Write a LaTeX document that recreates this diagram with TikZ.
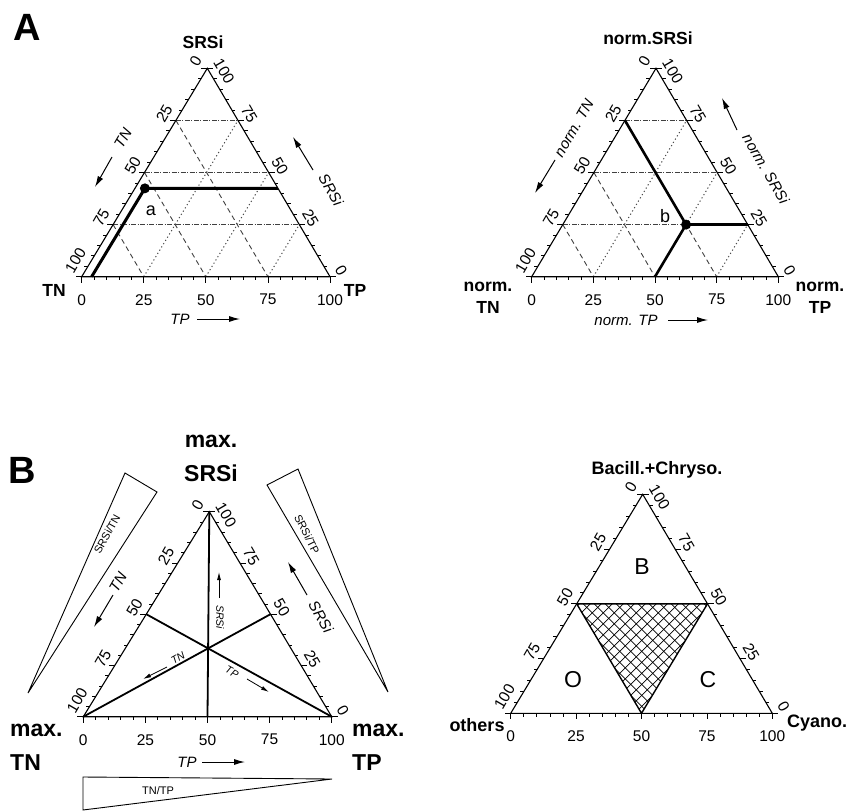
\documentclass[tikz,border=0pt]{standalone}
\usepackage{fontspec}
\setmainfont{Liberation Sans}
\usetikzlibrary{arrows.meta,calc}

\tikzset{
  triedge/.style={line width=1.1pt, line join=miter},
  tk/.style={line width=0.8pt},
  num/.style={font=\fontsize{15.5}{15.5}\selectfont, inner sep=0pt},
  gridh/.style={line width=0.8pt, black!75, dash pattern=on 5pt off 1.5pt on 1pt off 1.5pt},
  gridn/.style={line width=0.9pt, black!75, dash pattern=on 5pt off 3.5pt},
  gridp/.style={line width=1pt, black!70, dash pattern=on 1.2pt off 2.6pt},
  heavy/.style={line width=3pt},
  median/.style={line width=1.8pt},
  cornerA/.style={font=\bfseries\fontsize{17.5}{22}\selectfont, inner sep=0pt, align=center},
  cornerC/.style={font=\bfseries\fontsize{18}{22}\selectfont, inner sep=0pt},
  cornerB/.style={font=\bfseries\fontsize{23}{34}\selectfont, inner sep=0pt},
  axlab/.style={font=\itshape\fontsize{15}{15}\selectfont, inner sep=0pt},
  inlab/.style={font=\itshape\fontsize{10.5}{10.5}\selectfont, inner sep=0pt},
  wedgelab/.style={font=\fontsize{11}{11}\selectfont, inner sep=0pt},
  axarrow/.style={line width=1pt, -{Latex[length=11pt,width=6pt]}},
  inarrow/.style={line width=0.8pt, -{Latex[length=8pt,width=4pt]}},
  panel/.style={font=\bfseries\fontsize{38}{38}\selectfont, inner sep=0pt},
  ptlab/.style={font=\fontsize{18}{18}\selectfont, inner sep=0pt},
  region/.style={font=\fontsize{23}{23}\selectfont, inner sep=0pt},
  wedge/.style={line width=0.9pt, line join=miter},
  hatch/.style={line width=0.8pt},
}

\newcommand{\terngrid}{%
  \foreach \v in {25,50,75}{%
    \draw[gridh] (0,\v) -- (100-\v,\v);
    \draw[gridn] (0,100-\v) -- (100-\v,0);
    \draw[gridp] (\v,0) -- (\v,100-\v);
  }}

\newcommand{\ternframe}[1]{%
  \coordinate (#1BL) at (0,0);
  \coordinate (#1BR) at (100,0);
  \coordinate (#1T) at (0,100);
  \foreach \v in {0,5,...,100}{%
    \pgfmathsetmacro\tklen{mod(\v,25)==0 ? 6 : 3.5}%
    \draw[tk] (\v,0) -- ++(0pt,-\tklen pt);
    \draw[tk] (0,100-\v) -- ++(-\tklen pt,0pt);
    \draw[tk] (100-\v,\v) -- ++(\tklen pt,0pt);
  }
  \draw[triedge] (#1BL) -- (#1BR) -- (#1T) -- cycle;
  \foreach \v in {0,25,50,75,100}{%
    \path (\v,0) ++(0pt,-23pt) node[num] (#1b\v) {\v};
  }
  \foreach \v in {0,25,50,75}{%
    \path (0,100-\v) ++(150:13.5pt) node[num,rotate=60] (#1l\v) {\v};
    \path (100-\v,\v) ++(30:13pt) node[num,rotate=-60] (#1r\v) {\v};
  }
  \path (0,0) ++(150:13.5pt) ++(60:11pt) node[num,rotate=60] (#1l100) {100};
  \path (0,100) ++(30:13pt) ++(-60:11pt) node[num,rotate=-60] (#1r100) {100};
}

\begin{document}
\begin{tikzpicture}[x=1pt,y=1pt]
\useasboundingbox (0,0) rectangle (851,-811);

% ================= Panel A, left =================
\node[panel] (pA) at (27,-27) {A};
\begin{scope}[shift={(81.7pt,-276.7pt)}, x={(2.483pt,0pt)}, y={(1.256pt,2.084pt)}]
  \terngrid
  \ternframe{AL}
  \coordinate (pa) at (4,42.4);
  \coordinate (pah) at (57.6,42.4);
  \coordinate (pab) at (4,0);
  \draw[heavy] (pah) -- (pa) -- (pab);
  \fill (pa) circle (5pt);
\end{scope}
\node[ptlab] (la) at ($(pa)+(6pt,-22pt)$) {a};
\node[cornerA] (tAL) at (203,-42) {SRSi};
\node[cornerA] (cALn) at (54,-290) {TN};
\node[cornerA] (cALp) at (355,-290) {TP};
\node[axlab, rotate=60] (xALn) at (123,-138) {TN};
\coordinate (aALn1) at (112,-157); \coordinate (aALn2) at (95,-187);
\draw[axarrow] (aALn1) -- (aALn2);
\node[axlab, rotate=-60] (xALs) at (331,-190) {SRSi};
\coordinate (aALs1) at (313,-170); \coordinate (aALs2) at (293,-137);
\draw[axarrow] (aALs1) -- (aALs2);
\node[axlab] (xALp) at (180,-319) {TP};
\coordinate (aALp1) at (197,-319); \coordinate (aALp2) at (240,-319);
\draw[axarrow] (aALp1) -- (aALp2);

% ================= Panel A, right =================
\begin{scope}[shift={(531.7pt,-276.7pt)}, x={(2.466pt,0pt)}, y={(1.243pt,2.084pt)}]
  \terngrid
  \ternframe{AR}
  \coordinate (pb) at (50,25);
  \coordinate (pbl) at (0,75);
  \coordinate (pbr) at (75,25);
  \coordinate (pbb) at (50,0);
  \draw[heavy, line width=2.6pt] (pbl) -- (pb) -- (pbb);
  \draw[heavy, line width=2.6pt] (pb) -- (pbr);
  \fill (pb) circle (5pt);
\end{scope}
\node[ptlab] (lb) at ($(pb)+(-21pt,9pt)$) {b};
\node[cornerA] (tAR) at (648,-38) {norm.SRSi};
\node[cornerA] (cARn) at (488,-298) {norm.\\TN};
\node[cornerA] (cARp) at (820,-298) {norm.\\TP};
\node[axlab, rotate=60] (xARn) at (574,-128) {norm. TN};
\coordinate (aARn1) at (555,-160); \coordinate (aARn2) at (535,-193);
\draw[axarrow] (aARn1) -- (aARn2);
\node[axlab, rotate=-60] (xARs) at (766,-169) {norm. SRSi};
\coordinate (aARs1) at (737,-130); \coordinate (aARs2) at (722,-98);
\draw[axarrow] (aARs1) -- (aARs2);
\node[axlab] (xARp) at (626,-320) {norm. TP};
\coordinate (aARp1) at (668,-320); \coordinate (aARp2) at (708,-320);
\draw[axarrow] (aARp1) -- (aARp2);

% ================= Panel B, left =================
\node[panel] (pB) at (22,-470) {B};
\begin{scope}[shift={(83.3pt,-716.7pt)}, x={(2.484pt,0pt)}, y={(1.26pt,2.05pt)}]
  \ternframe{BL}
  \coordinate (mb) at (50,0);
  \coordinate (mr) at (50,50);
  \coordinate (ml) at (0,50);
  \draw[median] (BLT) -- (mb);
  \draw[median] (BLBL) -- (mr);
  \draw[median] (BLBR) -- (ml);
\end{scope}
\node[cornerB, align=center] (tBL) at (211,-458) {max.\\SRSi};
\node[cornerB, align=left, anchor=north west] (cBLn) at (10,-724) {max.\\TN};
\node[cornerB, align=left, anchor=north west] (cBLp) at (352,-724) {max.\\TP};
\node[axlab, rotate=60] (xBLn) at (118,-582) {TN};
\coordinate (aBLn1) at (113,-595); \coordinate (aBLn2) at (94,-627);
\draw[axarrow] (aBLn1) -- (aBLn2);
\node[axlab, rotate=-60] (xBLs) at (321,-617) {SRSi};
\coordinate (aBLs1) at (307,-595); \coordinate (aBLs2) at (288,-562);
\draw[axarrow] (aBLs1) -- (aBLs2);
\node[axlab] (xBLp) at (187,-762) {TP};
\coordinate (aBLp1) at (202,-762); \coordinate (aBLp2) at (245,-762);
\draw[axarrow] (aBLp1) -- (aBLp2);
% inner labels
\node[inlab, rotate=-90] (iBLs) at (220,-617) {SRSi};
\coordinate (iBLs1) at (219,-598); \coordinate (iBLs2) at (219,-572);
\draw[inarrow] (iBLs1) -- (iBLs2);
\node[inlab, rotate=29] (iBLn) at (178,-658) {TN};
\coordinate (iBLn1) at (167,-667); \coordinate (iBLn2) at (143,-679);
\draw[inarrow] (iBLn1) -- (iBLn2);
\node[inlab, rotate=-29] (iBLp) at (232,-672) {TP};
\coordinate (iBLp1) at (247,-679); \coordinate (iBLp2) at (269,-692);
\draw[inarrow] (iBLp1) -- (iBLp2);
% wedges
\coordinate (wl1) at (125,-473); \coordinate (wl2) at (157,-492); \coordinate (wl3) at (28,-693);
\draw[wedge] (wl1) -- (wl2) -- (wl3) -- cycle;
\node[wedgelab, rotate=61] (wlt) at (107,-534) {SRSi/TN};
\coordinate (wr1) at (267,-485); \coordinate (wr2) at (298,-469); \coordinate (wr3) at (388,-692);
\draw[wedge] (wr1) -- (wr2) -- (wr3) -- cycle;
\node[wedgelab, rotate=-63] (wrt) at (307,-534) {SRSi/TP};
\coordinate (wb1) at (83,-777); \coordinate (wb2) at (332,-779); \coordinate (wb3) at (83,-810);
\draw[wedge] (wb1) -- (wb2) -- (wb3) -- cycle;
\node[wedgelab] (wbt) at (158,-791) {TN/TP};

% ================= Panel B, right =================
\begin{scope}[shift={(510.7pt,-713.3pt)}, x={(2.616pt,0pt)}, y={(1.32pt,2.19pt)}]
  \coordinate (hl) at (0,50);
  \coordinate (hr) at (50,50);
  \coordinate (hb) at (50,0);
  \coordinate (hc) at (33.3,33.3);
  \begin{scope}
    \clip (hl) -- (hr) -- (hb) -- cycle;
    \foreach \k in {-16,...,16}{%
      \draw[hatch] ($(hc)+(\k*11pt-120pt,-120pt)$) -- ++(240pt,240pt);
      \draw[hatch] ($(hc)+(\k*11pt+120pt,-120pt)$) -- ++(-240pt,240pt);
    }
  \end{scope}
  \draw[line width=1.4pt, line join=miter] (hl) -- (hr) -- (hb) -- cycle;
  \ternframe{BR}
\end{scope}
\node[cornerC] (tBR) at (657,-470) {Bacill.+Chryso.};
\node[cornerC] (cBRo) at (477,-725) {others};
\node[cornerC] (cBRc) at (817,-723) {Cyano.};
\node[region] (rB) at (642,-567) {B};
\node[region] (rO) at (573,-680) {O};
\node[region] (rC) at (708,-680) {C};

\end{tikzpicture}
\end{document}
